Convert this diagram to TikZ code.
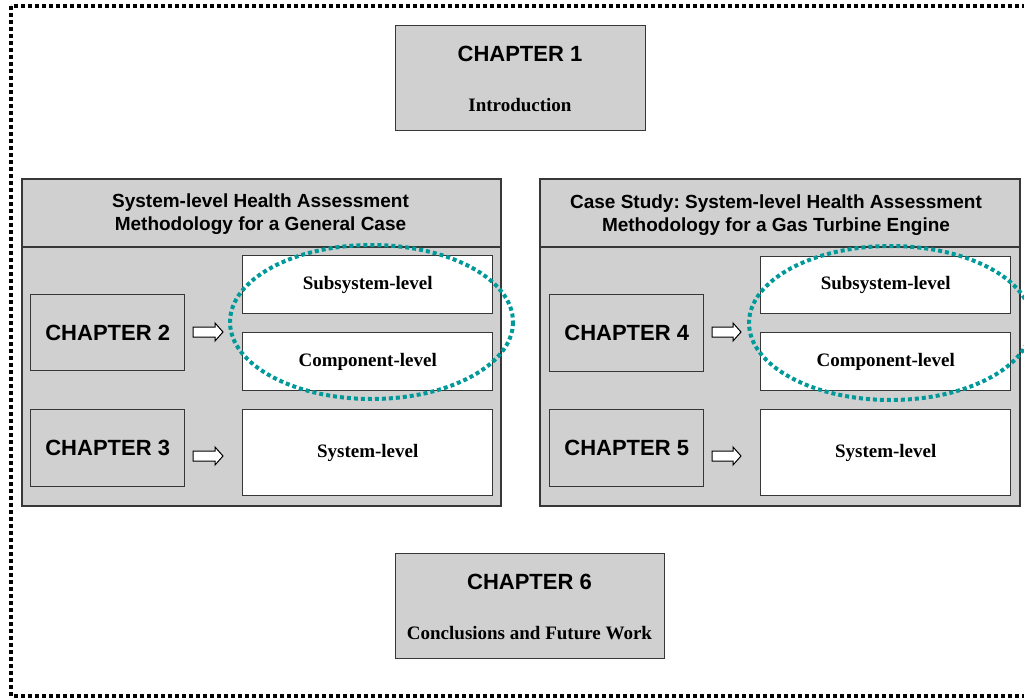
\documentclass[tikz,border=0pt]{standalone}
\usepackage{fontspec}
\setmainfont{Liberation Serif}
\newfontfamily\hdfont{Liberation Sans}
\usetikzlibrary{calc}
\frenchspacing
\definecolor{panelgray}{RGB}{208,208,208}
\definecolor{edgegray}{RGB}{55,55,55}
\definecolor{ringteal}{RGB}{0,153,153}

% hollow block arrow between two named coordinates
\newcommand{\hollowarrow}[2]{%
  \draw[blockarrow] ($(#1)+(0,-5)$) -- ($(#2)+(-8,-5)$) -- ($(#2)+(-8,-9)$) -- (#2)
    -- ($(#2)+(-8,9)$) -- ($(#2)+(-8,5)$) -- ($(#1)+(0,5)$) -- cycle;}

\begin{document}
\begin{tikzpicture}[x=1pt,y=-1pt,
  panel/.style={draw=edgegray, line width=1.6pt, fill=panelgray, rectangle, inner sep=0pt, anchor=north west},
  chapbox/.style={draw=edgegray, line width=1.4pt, fill=panelgray, rectangle, inner sep=0pt, anchor=north west},
  levelbox/.style={draw=edgegray, line width=1.4pt, fill=white, rectangle, inner sep=0pt, anchor=north west},
  chaptxt/.style={font=\hdfont\bfseries\fontsize{22}{26}\selectfont, inner sep=0pt},
  headtxt/.style={font=\hdfont\bfseries\fontsize{19}{23}\selectfont, inner sep=0pt, anchor=base},
  leveltxt/.style={font=\bfseries\fontsize{19}{23}\selectfont, inner sep=0pt},
  outerframe/.style={line width=4pt, dash pattern=on 4pt off 3pt},
  ring/.style={draw=ringteal, line width=4pt, dash pattern=on 4pt off 3pt},
  blockarrow/.style={draw=black, line width=1pt, fill=white, line join=miter}
]
\useasboundingbox (0,0) rectangle (1024,698);
\clip (0,0) rectangle (1024,698);

% dotted outer frame
\draw[outerframe] (11,6) rectangle (1050,696);

% chapter 1
\node[chapbox, minimum width=250pt, minimum height=105pt] (ch1) at (395,25) {};
\node[chaptxt, anchor=base] (ch1t) at (520,62) {CHAPTER 1};
\node[leveltxt, anchor=base] (ch1s) at (520,112) {Introduction};

% left panel: general case
\node[panel, minimum width=479pt, minimum height=68pt] (hL) at (21,178) {};
\node[panel, minimum width=479pt, minimum height=259pt] (pL) at (21,246) {};
\node[headtxt] (hL1) at (260.5,207.5) {System-level Health Assessment};
\node[headtxt] (hL2) at (260.5,230.5) {Methodology for a General Case};

\node[chapbox, minimum width=154pt, minimum height=76pt] (c2) at (30,294) {};
\node[chaptxt] at (c2.center) {CHAPTER 2};
\node[chapbox, minimum width=154pt, minimum height=77pt] (c3) at (30,409) {};
\node[chaptxt] at (c3.center) {CHAPTER 3};

\node[levelbox, minimum width=250pt, minimum height=58pt] (sL) at (242,255) {};
\node[leveltxt] at (sL.center) {Subsystem-level};
\node[levelbox, minimum width=250pt, minimum height=58pt] (kL) at (242,332) {};
\node[leveltxt] at (kL.center) {Component-level};
\node[levelbox, minimum width=250pt, minimum height=86pt] (yL) at (242,409) {};
\node[leveltxt] at (yL.center) {System-level};

\coordinate (a2s) at (193,332); \coordinate (a2e) at (223,332);
\coordinate (a3s) at (193,456); \coordinate (a3e) at (223,456);
\hollowarrow{a2s}{a2e}
\hollowarrow{a3s}{a3e}

\draw[ring] (371.5,322) ellipse [x radius=141.5, y radius=77];

% right panel: gas turbine case study
\node[panel, minimum width=480pt, minimum height=68pt] (hR) at (539,178) {};
\node[panel, minimum width=480pt, minimum height=259pt] (pR) at (539,246) {};
\node[headtxt] (hR1) at (776,208) {Case Study: System-level Health Assessment};
\node[headtxt] (hR2) at (776,231) {Methodology for a Gas Turbine Engine};

\node[chapbox, minimum width=154pt, minimum height=77pt] (c4) at (549,294) {};
\node[chaptxt] at (c4.center) {CHAPTER 4};
\node[chapbox, minimum width=154pt, minimum height=77pt] (c5) at (549,409) {};
\node[chaptxt] at (c5.center) {CHAPTER 5};

\node[levelbox, minimum width=250pt, minimum height=57pt] (sR) at (760,256) {};
\node[leveltxt] at (sR.center) {Subsystem-level};
\node[levelbox, minimum width=250pt, minimum height=58pt] (kR) at (760,332) {};
\node[leveltxt] at (kR.center) {Component-level};
\node[levelbox, minimum width=250pt, minimum height=86pt] (yR) at (760,409) {};
\node[leveltxt] at (yR.center) {System-level};

\coordinate (a4s) at (712,332); \coordinate (a4e) at (741,332);
\coordinate (a5s) at (712,456); \coordinate (a5e) at (741,456);
\hollowarrow{a4s}{a4e}
\hollowarrow{a5s}{a5e}

\draw[ring] (890.5,323) ellipse [x radius=141.5, y radius=77];

% chapter 6
\node[chapbox, minimum width=269pt, minimum height=105pt] (ch6) at (395,553) {};
\node[chaptxt, anchor=base] (ch6t) at (529.5,589) {CHAPTER 6};
\node[leveltxt, anchor=base] (ch6s) at (529.5,639) {Conclusions and Future Work};
\end{tikzpicture}
\end{document}
